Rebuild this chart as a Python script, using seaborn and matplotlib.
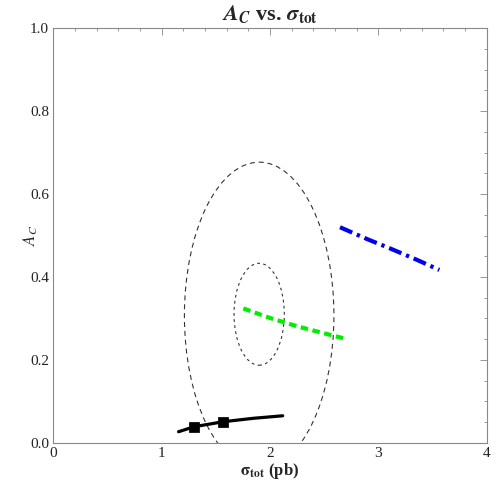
import numpy as np
import pandas as pd
import matplotlib
matplotlib.use("Agg")
import matplotlib.pyplot as plt
from matplotlib.patches import Ellipse
from matplotlib.ticker import MultipleLocator
import seaborn as sns

sns.set_theme(style="white")
plt.rcParams['font.family'] = ['Liberation Serif', 'DejaVu Serif']
plt.rcParams['mathtext.fontset'] = 'stix'

# data
black_x = [1.156, 1.30, 1.569, 1.85, 2.117]
black_y = [0.0265, 0.0386, 0.0507, 0.059, 0.065]
marker_x = [1.30, 1.569]
marker_y = [0.0386, 0.0507]
green_x = [1.754, 2.0, 2.25, 2.5, 2.70]
green_y = [0.324, 0.301, 0.281, 0.264, 0.2505]
blue_x = [2.646, 2.9, 3.107, 3.35, 3.563]
blue_y = [0.520, 0.491, 0.469, 0.442, 0.417]
# ellipses: center x, center y, full width, full height
ell_cx = [1.90, 1.90]
ell_cy = [0.307, 0.31]
ell_w = [1.38, 0.464]
ell_h = [0.740, 0.246]

fig = plt.figure(figsize=(4.91, 4.90), dpi=100)
ax = fig.add_axes([0.1086, 0.0965, 0.8826, 0.8457])

grey = '#333333'
e1 = Ellipse((ell_cx[0], ell_cy[0]), ell_w[0], ell_h[0], fill=False,
             edgecolor=grey, lw=0.8, linestyle=(0, (4.5, 3.5)))
e2 = Ellipse((ell_cx[1], ell_cy[1]), ell_w[1], ell_h[1], fill=False,
             edgecolor=grey, lw=0.8, linestyle=(0, (2.5, 3)))
ax.add_patch(e1)
ax.add_patch(e2)

dfb = pd.DataFrame({'x': black_x, 'y': black_y})
dfg = pd.DataFrame({'x': green_x, 'y': green_y})
dfl = pd.DataFrame({'x': blue_x, 'y': blue_y})
dfm = pd.DataFrame({'x': marker_x, 'y': marker_y})

sns.lineplot(data=dfb, x='x', y='y', ax=ax, color='black', lw=2.3, sort=False)
sns.scatterplot(data=dfm, x='x', y='y', ax=ax, color='black', marker='s', s=45,
                edgecolor='black', zorder=5)
sns.lineplot(data=dfg, x='x', y='y', ax=ax, color='#00ee00', lw=3.0, sort=False,
             linestyle=(0, (1.8, 1.1)))
sns.lineplot(data=dfl, x='x', y='y', ax=ax, color='#0000ee', lw=3.0, sort=False,
             linestyle=(0, (3.2, 1.2, 0.8, 1.2)))

ax.set_xlim(0, 4)
ax.set_ylim(0, 1.0)
ax.xaxis.set_major_locator(MultipleLocator(1))
ax.xaxis.set_minor_locator(MultipleLocator(0.2))
ax.yaxis.set_major_locator(MultipleLocator(0.2))
ax.yaxis.set_minor_locator(MultipleLocator(0.05))
ax.set_xticks([0, 1, 2, 3, 4])
ax.set_xticklabels(['0', '1', '2', '3', '4'])
ax.set_yticks([0.0, 0.2, 0.4, 0.6, 0.8, 1.0])
ax.set_yticklabels(['0.0', '0.2', '0.4', '0.6', '0.8', '1.0'])

ax.tick_params(which='both', direction='in', top=True, right=True, color='#888888',
               labelsize=11, labelcolor='#222222', width=0.6)
ax.tick_params(which='major', length=5, pad=3)
ax.tick_params(which='minor', length=2.5)
for s in ax.spines.values():
    s.set_color('#888888')
    s.set_linewidth(0.8)

ax.set_xlabel(r'$\mathbf{\sigma_{tot}}$ (pb)', fontsize=12, fontweight='bold', labelpad=1)
ax.set_ylabel(r'$A_C$', fontsize=12)
ax.yaxis.set_label_coords(-0.03, 0.5)
ax.set_title(r'$\mathbfit{A}_{\mathbfit{C}}$ vs. $\mathbfit{\sigma}_{\mathbf{tot}}$',
             fontsize=16, fontweight='bold', pad=6)

fig.savefig('out.png', dpi=100)
